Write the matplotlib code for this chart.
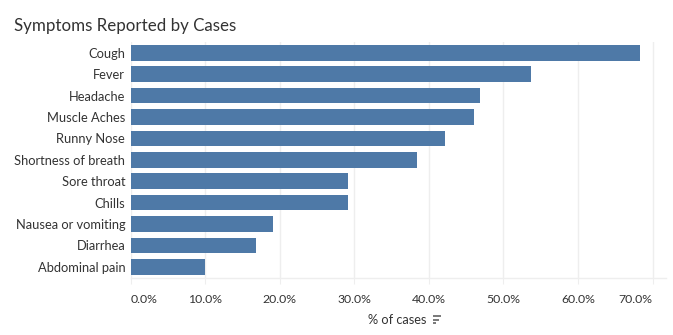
import matplotlib
matplotlib.use("Agg")
import matplotlib.pyplot as plt
from matplotlib.lines import Line2D
from matplotlib.ticker import FuncFormatter

plt.rcParams["font.family"] = ["Lato", "DejaVu Sans"]

# Share of cases reporting each symptom (%)
symptoms = ["Cough", "Fever", "Headache", "Muscle Aches", "Runny Nose",
            "Shortness of breath", "Sore throat", "Chills",
            "Nausea or vomiting", "Diarrhea", "Abdominal pain"]
pct_cases = [68.3, 53.7, 46.8, 46.0, 42.2, 38.4, 29.1, 29.1, 19.1, 16.8, 10.0]
x_ticks = [0, 10, 20, 30, 40, 50, 60, 70]

W, H = 673, 335
fig = plt.figure(figsize=(W / 100, H / 100), dpi=100)
ax = fig.add_axes([130.7 / W, 1 - 277.5 / H, (666 - 130.7) / W, (277.5 - 42) / H])

bar_color = "#4e79a7"
text_color = "#333333"
grid_color = "#eeeeee"

ypos = list(range(len(symptoms)))
ax.barh(ypos, pct_cases, height=0.73, color=bar_color, zorder=3)
ax.set_ylim(len(symptoms) - 0.5, -0.5)
ax.set_xlim(0, 71.8)

ax.set_yticks(ypos)
ax.set_yticklabels(symptoms, fontsize=9.3, color=text_color)
ax.tick_params(axis="y", length=0, pad=4)

ax.set_xticks(x_ticks)
ax.xaxis.set_major_formatter(FuncFormatter(lambda v, p: f"{v:.1f}%"))
ax.tick_params(axis="x", length=4, width=0.8, color=grid_color,
               labelsize=8.8, labelcolor=text_color, pad=8)
labels = ax.get_xticklabels()
labels[0].set_horizontalalignment("left")
labels[-1].set_horizontalalignment("right")
labels[-1].set_x(71.8)

ax.grid(axis="x", color=grid_color, linewidth=1, zorder=0)
for s in ["top", "right", "left"]:
    ax.spines[s].set_visible(False)
ax.spines["bottom"].set_color(grid_color)
ax.spines["bottom"].set_linewidth(1)

# Title
fig.text(14 / W, 1 - 30.5 / H, "Symptoms Reported by Cases", fontsize=12.2,
         color=text_color, ha="left", va="baseline")

# Axis title with sort indicator
fig.text(397 / W, 1 - 324 / H, "% of cases", fontsize=9.2, color=text_color,
         ha="center", va="baseline")
icon_color = "#555555"
for y, x1 in [(316.2, 440.8), (319.8, 438.5), (323.4, 436.3)]:
    fig.add_artist(Line2D([433.3 / W, x1 / W], [1 - y / H, 1 - y / H],
                          transform=fig.transFigure, color=icon_color, lw=1.1,
                          solid_capstyle="butt"))

fig.savefig("out.png", dpi=100)
